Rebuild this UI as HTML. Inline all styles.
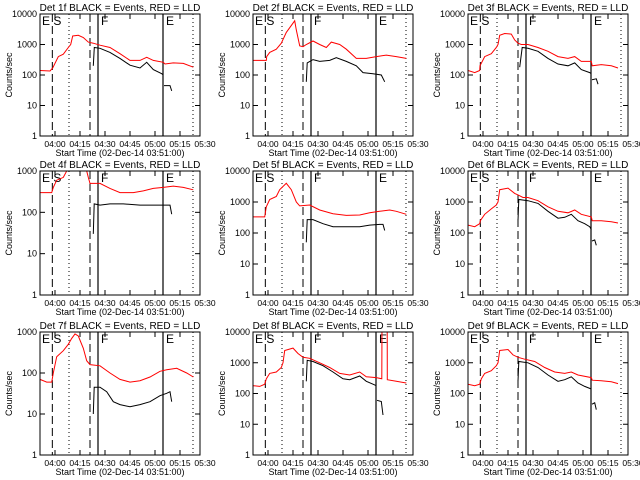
<!DOCTYPE html>
<html><head><meta charset="utf-8"><style>
html,body{margin:0;padding:0;background:#fff;width:640px;height:480px;overflow:hidden}
svg text{font-family:"Liberation Sans",sans-serif;fill:#000}
</style></head><body>
<svg id="chart" width="640" height="480" viewBox="0 0 640 480" xmlns="http://www.w3.org/2000/svg"></svg>
<script>
// ---- data (minutes after 03:51:00, counts/sec) ----
const tickLabels = ["04:00","04:15","04:30","04:45","05:00","05:15","05:30"];
const tickMinutes = [9,24,39,54,69,84,99];
const detNames = ["1f","2f","3f","4f","5f","6f","7f","8f","9f"];
const yMaxDecades = [4,4,4,3,4,4,3,4,4];
const dashedTimes = [7.4,30];
const dottedTimes = [17.4,91.8];
const solidTimes = [34.8,73.8];
const red1T=[0,6,7.6,11,14,17,18.4,19.6,23,26,29,32,36,42,48,54,60,64,68,74,75,80,86,92];
const red1V=[140,135,170,400,480,800,1000,1900,2000,1700,1200,1100,950,800,500,300,300,380,300,260,230,250,240,180];
const blk1T=[32,32.6,36,42,48,54,60,64,68,73,74,null,74.4,78,79];
const blk1V=[200,800,750,550,350,210,170,260,150,110,100,null,45,45,30];
const red2T=[0,8,8.2,10,14,17,20,25,26,28,30,32,36,40,44,47,52,56,62,68,74,80,86,92];
const red2V=[300,300,400,550,700,1100,2500,6000,3000,900,850,1000,1300,1000,800,1200,1000,700,350,350,400,450,400,350];
const blk2T=[32,32.5,36,40,46,50,56,62,66,72,77,79];
const blk2V=[60,250,320,280,300,370,280,200,120,110,100,60];
const red3T=[0,4,7,7.2,10,14,17,18,19,22,26,28,30,32,36,42,48,54,60,64,68,74,74.5,80,86,90];
const red3V=[140,120,140,200,400,500,800,1000,2000,2300,2200,1400,1100,1000,1000,800,600,400,350,400,280,280,200,220,200,170];
const blk3T=[31,32.5,36,42,48,54,60,64,68,73,74,null,74.4,77,78];
const blk3V=[180,800,750,600,350,230,200,250,150,120,110,null,70,75,50];
const red4T=[0,7,8,10,14,16,17,null,27,28,29,30,36,42,48,56,62,68,74,80,86,92];
const red4V=[300,300,400,600,700,1000,1500,null,1500,1000,700,500,500,380,300,300,330,380,400,430,400,350];
const blk4T=[32,32.5,36,42,50,60,70,78,79];
const blk4V=[30,160,150,160,160,150,150,150,90];
const red5T=[0,7,8,10,14,16,20,23,26,28,34,40,48,56,64,70,76,82,86,92];
const red5V=[330,330,700,1200,1500,2500,4000,2500,1000,750,800,550,420,370,380,450,500,550,500,400];
const blk5T=[32,32.5,36,42,48,56,64,70,76,78,79];
const blk5V=[50,270,270,200,160,160,160,180,190,190,120];
const red6T=[0,4,7,7.4,10,14,17,18,19,24,28,30,33,36,42,48,54,60,64,68,74,74.5,80,86,90];
const red6V=[180,160,200,250,400,600,800,1000,2500,2800,1900,1700,1400,1400,1100,700,500,450,550,400,330,250,250,230,210];
const blk6T=[30,30.5,36,42,48,54,58,62,66,70,73,74,null,74.4,76,77];
const blk6V=[250,1200,1100,900,500,300,320,400,250,200,160,130,null,55,60,40];
const red7T=[0,4,7,8,10,14,17,19,21,23,26,28,30,36,42,48,54,60,66,72,76,82,88,92];
const red7V=[70,60,60,100,250,350,500,700,900,800,400,200,160,150,100,70,60,65,80,110,120,130,100,80];
const blk7T=[32,32.5,36,40,44,48,54,60,66,72,76,78,79];
const blk7V=[10,45,45,35,20,17,15,17,20,28,32,35,20];
const red8T=[0,4,7,8,10,14,17,18,19,24,27,30,34,40,46,52,58,64,68,74,77.3,77.4,80.5,80.6,86,92];
const red8V=[180,170,200,300,450,500,700,1000,2500,3000,2000,1500,1400,1000,700,450,400,500,350,330,300,20000,20000,280,250,220];
const blk8T=[32,32.5,36,42,48,54,58,64,68,72,74,null,74.4,77,78];
const blk8V=[250,1200,1100,800,500,300,280,370,250,200,180,null,60,55,20];
const red9T=[0,4,7,8,10,14,17,18,19,24,27,30,34,40,46,52,58,62,66,74,74.5,80,86,90];
const red9V=[200,180,200,300,450,550,800,1000,2500,2700,1800,1500,1300,1100,700,500,450,500,400,330,270,260,240,210];
const blk9T=[30,30.5,36,42,48,54,58,62,66,70,74,null,74.4,76,77];
const blk9V=[250,1100,1000,700,400,250,280,350,220,170,140,null,45,50,30];
const redT=[red1T,red2T,red3T,red4T,red5T,red6T,red7T,red8T,red9T];
const redV=[red1V,red2V,red3V,red4V,red5V,red6V,red7V,red8V,red9V];
const blkT=[blk1T,blk2T,blk3T,blk4T,blk5T,blk6T,blk7T,blk8T,blk9T];
const blkV=[blk1V,blk2V,blk3V,blk4V,blk5V,blk6V,blk7V,blk8V,blk9V];

const NS="http://www.w3.org/2000/svg";
const svg=document.getElementById('chart');
function mk(tag,attrs,parent){const e=document.createElementNS(NS,tag);for(const k in attrs)e.setAttribute(k,attrs[k]);(parent||svg).appendChild(e);return e;}
const colX=[40,253,468], rowTop=[14,171,332], rowBot=[136,295,455], W=160, SPAN=96;

for(let p=0;p<9;p++){
  const c=p%3,r=Math.floor(p/3);
  const L=colX[c],T=rowTop[r],B=rowBot[r],D=yMaxDecades[p];
  const xs=m=>L+m/SPAN*W;
  const ys=v=>B-Math.log10(v)/D*(B-T);
  const g=mk('g',{});
  
  
  const clipId='clip'+p;
  const cp=mk('clipPath',{id:clipId},g);mk('rect',{x:L,y:T,width:W,height:B-T},cp);
  // title
  const t=mk('text',{x:L+W/2,y:T-3,'font-size':10,'text-anchor':'middle'},g);
  t.textContent='Det '+detNames[p]+' BLACK = Events, RED = LLD';
  
  
  // y label
  const yl=mk('text',{x:0,y:0,'font-size':9,'text-anchor':'middle',transform:`translate(${L-28},${(T+B)/2}) rotate(-90)`},g);
  yl.textContent='Counts/sec';
  
  
  // y ticks
  for(let d=0;d<=D;d++){
    const y=ys(Math.pow(10,d));
    mk('line',{x1:L,x2:L+5,y1:y,y2:y,stroke:'#000'},g);
    mk('line',{x1:L+W-5,x2:L+W,y1:y,y2:y,stroke:'#000'},g);
    const tl=mk('text',{x:L-3,y:y+3,'font-size':9,'text-anchor':'end'},g);
    tl.textContent=String(Math.pow(10,d));
    
    
  }
  // x ticks
  tickMinutes.forEach((m,i)=>{
    const x=xs(m);
    if(x<=L+W+0.5){mk('line',{x1:x,x2:x,y1:B,y2:B-5,stroke:'#000'},g);mk('line',{x1:x,x2:x,y1:T,y2:T+5,stroke:'#000'},g);}
    const tl=mk('text',{x:x,y:B+11,'font-size':8.5,'text-anchor':'middle'},g);
    tl.textContent=tickLabels[i];
    
    
  });
  const xl=mk('text',{x:L+W/2,y:B+20,'font-size':9,'text-anchor':'middle'},g);
  xl.textContent='Start Time (02-Dec-14 03:51:00)';
  
  
  // vertical markers
  dashedTimes.forEach(m=>mk('line',{x1:xs(m),x2:xs(m),y1:T,y2:B,stroke:'#000','stroke-dasharray':'8,4'},g));
  dottedTimes.forEach(m=>mk('line',{x1:xs(m),x2:xs(m),y1:T,y2:B,stroke:'#000','stroke-dasharray':'1,3'},g));
  solidTimes.forEach(m=>mk('line',{x1:xs(m),x2:xs(m),y1:T,y2:B,stroke:'#000','stroke-width':1.2},g));
  // phase labels
  [['E S',xs(0)+2],['F',xs(solidTimes[0])+3],['E',xs(solidTimes[1])+3]].forEach(a=>{
    const pl=mk('text',{x:a[1],y:T+11,'font-size':12},g);pl.textContent=a[0];
    
    
  });
  // series
  function path(ts,vs){let d='',pen=false;for(let i=0;i<ts.length;i++){if(ts[i]===null){pen=false;continue;}d+=(pen?'L':'M')+xs(ts[i]).toFixed(1)+' '+ys(vs[i]).toFixed(1);pen=true;}return d;}
  const rp=mk('path',{d:path(redT[p],redV[p]),fill:'none',stroke:'#ff0000','stroke-width':1,'clip-path':`url(#${clipId})`},g);
  
  
  const bp=mk('path',{d:path(blkT[p],blkV[p]),fill:'none',stroke:'#000','stroke-width':1,'clip-path':`url(#${clipId})`},g);
  
  
  // frame
  const fr=mk('rect',{x:L,y:T,width:W,height:B-T,fill:'none',stroke:'#000','stroke-width':1},g);
  
  
}
</script>
</body></html>
